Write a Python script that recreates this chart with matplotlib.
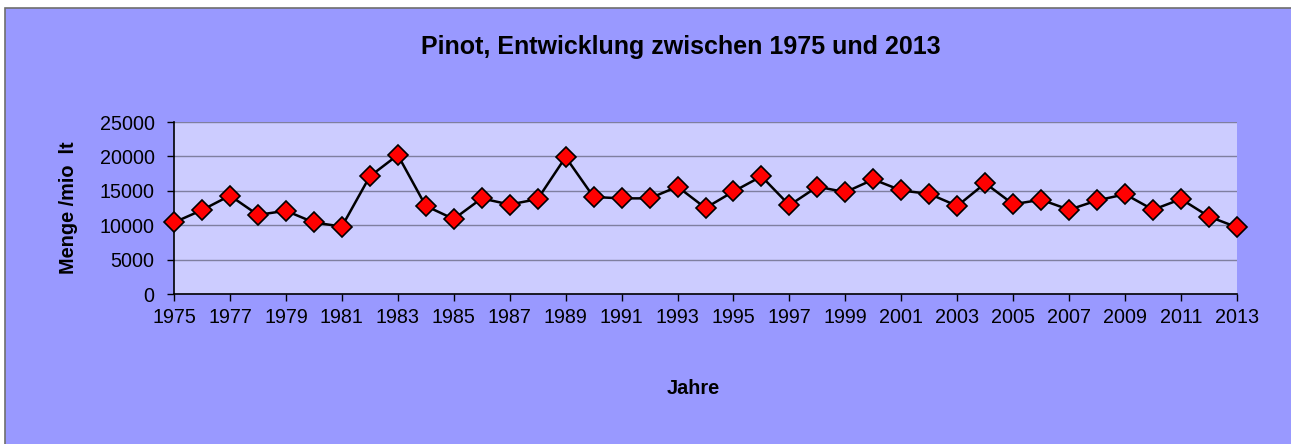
import matplotlib
matplotlib.use("Agg")
from matplotlib import pyplot as plt
from matplotlib.patches import Rectangle

# Pinot, Menge in mio lt
years = list(range(1975, 2014))
menge = [10400, 12200, 14300, 11500, 12100, 10400, 9800, 17100, 20200, 12800,
         10900, 13900, 13000, 13800, 19900, 14100, 13900, 13900, 15600, 12500,
         14900, 17100, 12900, 15600, 14800, 16650, 15050, 14550, 12800, 16100,
         13050, 13700, 12250, 13600, 14500, 12250, 13800, 11250, 9700]
year_ticks = list(range(1975, 2014, 2))
menge_ticks = [0, 5000, 10000, 15000, 20000, 25000]

title = "Pinot, Entwicklung zwischen 1975 und 2013"
x_label = "Jahre"
y_label = "Menge /mio  lt"

plt.rcParams['font.family'] = ['Liberation Sans', 'DejaVu Sans']

W, H = 1291, 444
fig = plt.figure(figsize=(W / 100, H / 100), dpi=100)
fig.patch.set_facecolor("white")

# chart area with the thin grey border on top/left
fig.patches.append(Rectangle((5 / W, -0.05), 1.1, 1.05 - 8 / H, transform=fig.transFigure,
                             facecolor="#9999FF", edgecolor="#6E6E6E", linewidth=1.2,
                             zorder=-10))

ax = fig.add_axes([174 / W, (H - 294) / H, (1237 - 174) / W, (294 - 122) / H])
ax.set_facecolor("#CCCCFF")

ax.plot(years, menge, color="black", linewidth=1.8, marker="D", markersize=10.5,
        markerfacecolor="#FF0000", markeredgecolor="black", markeredgewidth=1.2,
        clip_on=False, zorder=3)

ax.set_xlim(1975, 2013)
ax.set_ylim(0, 25000)
ax.set_xticks(year_ticks)
ax.set_yticks(menge_ticks)
ax.tick_params(axis="both", labelsize=14.2, length=5, width=1, color="black", direction="out")
ax.tick_params(axis="x", pad=5)
ax.tick_params(axis="y", pad=9)
ax.grid(axis="y", color="#7F7F9F", linewidth=1)
ax.set_axisbelow(True)
for side in ["top", "right"]:
    ax.spines[side].set_visible(False)
for side in ["left", "bottom"]:
    ax.spines[side].set_linewidth(1.2)

fig.text(681 / W, 1 - 47 / H, title, ha="center", va="center", fontsize=18, fontweight="bold")
fig.text(693 / W, 1 - 388 / H, x_label, ha="center", va="center", fontsize=14.3, fontweight="bold")
fig.text(69 / W, 1 - 208 / H, y_label, ha="center", va="center", rotation=90,
         fontsize=14.3, fontweight="bold")

fig.savefig("out.png", dpi=100, facecolor=fig.get_facecolor())
